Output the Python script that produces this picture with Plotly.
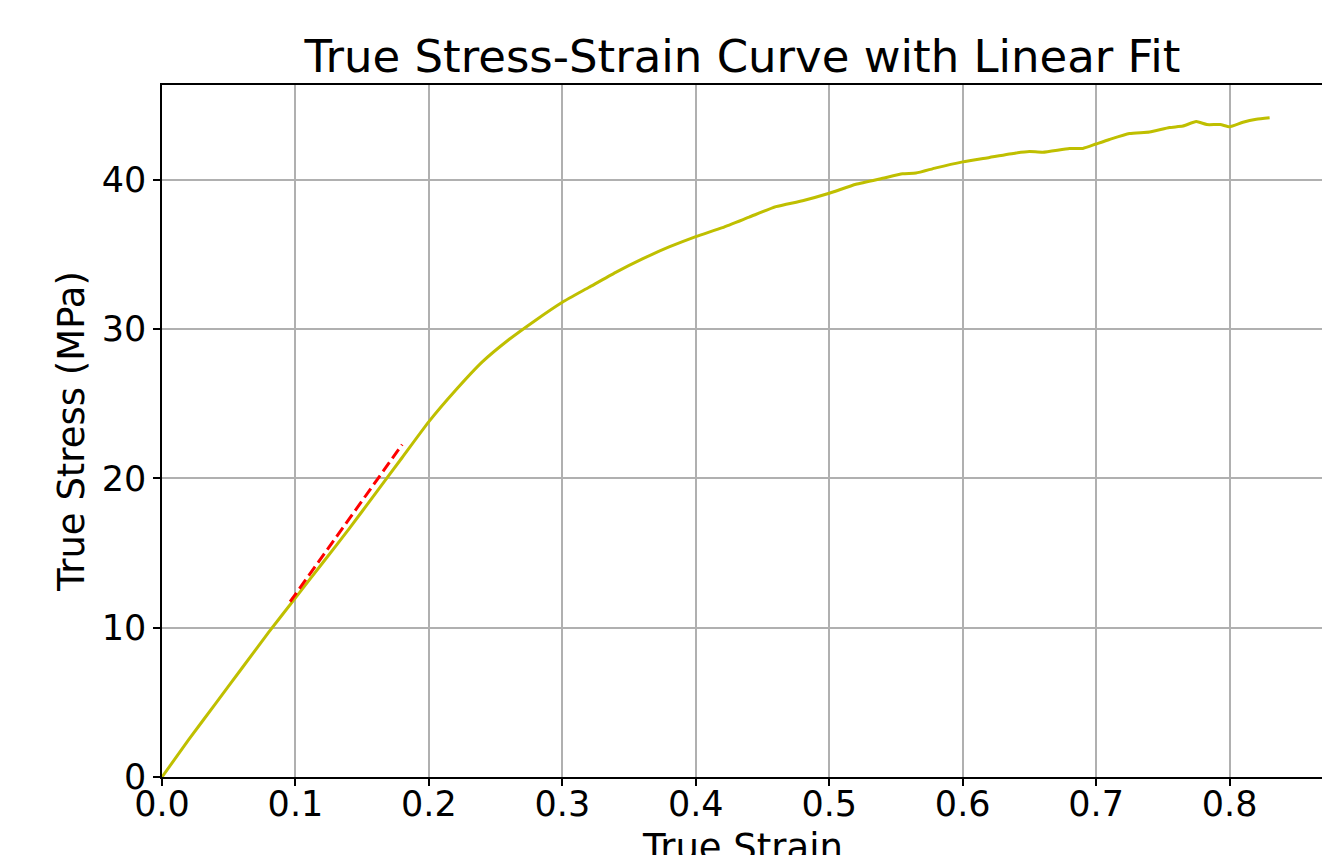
import plotly.graph_objects as go

strain = [0, 0.02, 0.04, 0.06, 0.08, 0.1, 0.12, 0.14, 0.16, 0.18, 0.2, 0.22, 0.24,
          0.26, 0.28, 0.3, 0.32, 0.34, 0.36, 0.38, 0.4, 0.42, 0.44, 0.46, 0.48, 0.5,
          0.52, 0.54, 0.555, 0.565, 0.58, 0.6, 0.62, 0.64, 0.65, 0.66, 0.68, 0.69, 0.70, 0.71,
          0.725, 0.74, 0.755, 0.765, 0.775, 0.783, 0.793, 0.80, 0.81, 0.82, 0.83]
stress = [0, 2.5, 4.9, 7.3, 9.7, 12.0, 14.3, 16.6, 19.0, 21.4, 23.8, 25.9, 27.8,
          29.3, 30.6, 31.8, 32.8, 33.8, 34.7, 35.5, 36.2, 36.8, 37.5, 38.2, 38.6, 39.1,
          39.7, 40.1, 40.4, 40.45, 40.8, 41.2, 41.5, 41.8, 41.9, 41.85, 42.1, 42.1, 42.4, 42.7,
          43.1, 43.2, 43.5, 43.6, 43.9, 43.7, 43.7, 43.55, 43.85, 44.05, 44.15]

fit_strain = [0.096, 0.18]
fit_stress = [11.74, 22.27]

x_ticks = [0.0, 0.1, 0.2, 0.3, 0.4, 0.5, 0.6, 0.7, 0.8]
y_ticks = [0, 10, 20, 30, 40]

font = "DejaVu Sans"

fig = go.Figure()
fig.add_trace(go.Scatter(x=strain, y=stress, mode="lines",
                         line=dict(color="#bfbf00", width=3, shape="spline", smoothing=0.5),
                         name="True Stress-Strain"))
fig.add_trace(go.Scatter(x=fit_strain, y=fit_stress, mode="lines",
                         line=dict(color="red", width=3, dash="11px,5px"), name="Linear Fit"))

axis_common = dict(showline=True, linecolor="black", linewidth=1.5, mirror=True,
                   ticks="outside", ticklen=7, tickwidth=1.5, tickcolor="black",
                   showgrid=True, gridcolor="#b0b0b0", gridwidth=1.5, zeroline=False,
                   automargin=False,
                   tickfont=dict(family=font, size=35, color="black"))

W, H = 1322, 847  # page body has an 8px margin

fig.update_layout(
    width=W, height=H,
    margin=dict(l=154, r=7, t=77, b=78),
    paper_bgcolor="white", plot_bgcolor="white",
    showlegend=False,
    title=dict(text="True Stress-Strain Curve with Linear Fit",
               font=dict(family=font, size=45, color="black"),
               x=(154 + 1315) / 2 / W, xanchor="center", y=1 - 48.7 / H, yanchor="middle"),
    xaxis=dict(range=[0, 0.870], tickvals=x_ticks, tickformat=".1f",
               ticklabelstandoff=-12,
               **axis_common),
    yaxis=dict(range=[0, 46.35], tickvals=y_ticks,
               title=dict(text="True Stress (MPa)", font=dict(family=font, size=37, color="black"),
                          standoff=6),
               **axis_common),
)

# x-axis title (placed as an annotation so it can sit partly below the page edge, as in the reference)
fig.add_annotation(text="True Strain", xref="paper", yref="paper", x=0.5, y=0,
                   xanchor="center", yanchor="top", yshift=-47, showarrow=False,
                   font=dict(family=font, size=37, color="black"))

fig.write_html("out.html")
